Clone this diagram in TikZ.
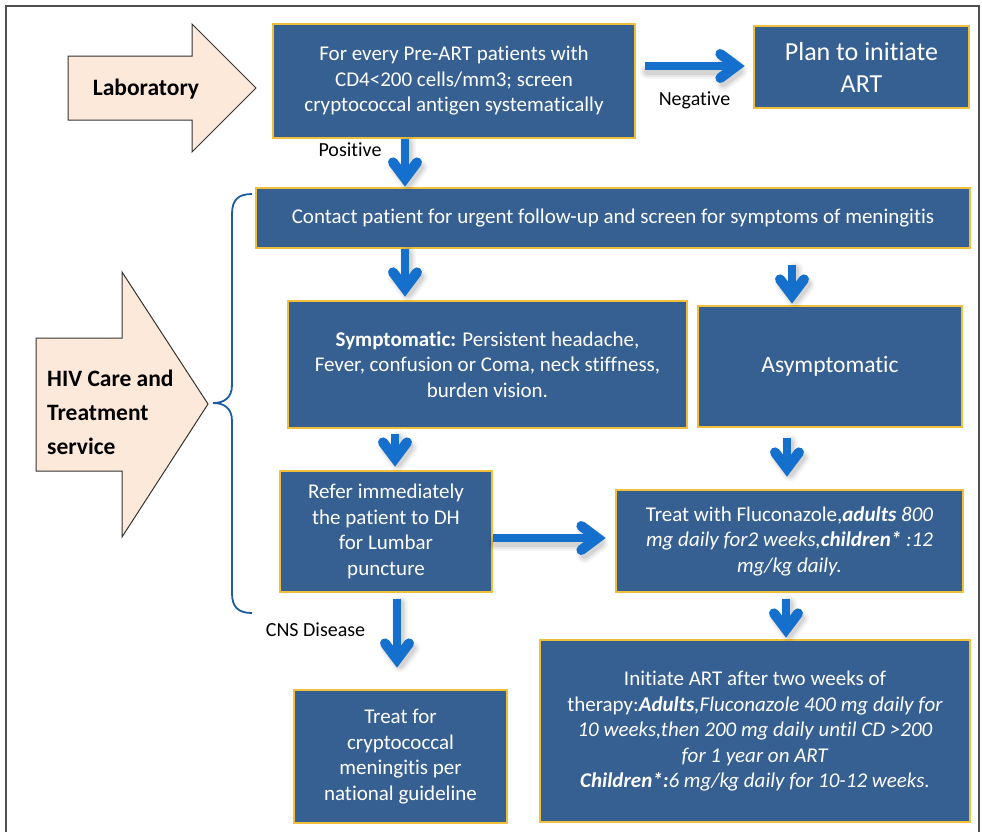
\documentclass[tikz,border=0pt]{standalone}
\usepackage{fontspec}
\setmainfont{Carlito}[Ligatures=CommonOff]
\usetikzlibrary{calc}

\definecolor{boxblue}{RGB}{55,96,146}
\definecolor{boxgold}{RGB}{240,192,60}
\definecolor{flowblue}{RGB}{20,112,204}
\definecolor{bracecol}{RGB}{30,92,162}
\definecolor{peach}{RGB}{253,233,217}
\definecolor{framegray}{RGB}{80,80,80}

\tikzset{
  stepbox/.style={draw=boxgold, fill=boxblue, line width=1.3pt, text=white,
    inner sep=0pt, align=center, font=\fontsize{21}{25.5}\selectfont},
  bigarrow/.style={fill=peach, draw=black!80, line width=1pt, line join=miter},
  sidetext/.style={font=\bfseries\fontsize{23.5}{34}\selectfont, inner sep=0pt},
  flowline/.style={draw=flowblue, line width=8pt},
  flowhead/.style={draw=flowblue, line width=10pt, line cap=round, line join=miter},
  lbl/.style={font=\fontsize{20}{23}\selectfont, inner sep=0pt},
}

% blue flow arrow: shaft from #1 to the joint #2 of an open chevron head
\newcommand\flowarrow[2]{%
  \foreach \w/\o in {16/0.04,12/0.06,8/0.08}{%
    \draw[black, opacity=\o, line width=\w pt, line cap=round, line join=round,
      transform canvas={shift={(3pt,-5pt)}}]
      (#1) -- (#2)
      ($(#2)!16pt!(#1)!12pt!90:(#2)$) -- (#2) -- ($(#2)!16pt!(#1)!12pt!-90:(#2)$);
  }%
  \draw[flowline] (#1) -- ($(#2)!3pt!(#1)$);
  \draw[flowhead] ($(#2)!16pt!(#1)!12pt!90:(#2)$) -- (#2)
    -- ($(#2)!16pt!(#1)!12pt!-90:(#2)$);
}

\begin{document}
\begin{tikzpicture}[x=1pt,y=-1pt]
\useasboundingbox (0,0) rectangle (982,831);

% page frame
\draw[framegray, line width=2pt] (6,845) -- (6,6) -- (979,6) -- (979,845);

% big side arrows
\draw[bigarrow] (68,56) -- (192,56) -- (192,24) -- (256,88) -- (192,152)
  -- (192,120) -- (68,120) -- cycle;
\node[sidetext] (lab) at (146,89) {Laboratory};

\draw[bigarrow] (36,338) -- (122,338) -- (122,272) -- (208,404) -- (122,537)
  -- (122,471) -- (36,471) -- cycle;
\node[sidetext, anchor=west, align=left] (hiv) at (47,412)
  {HIV Care and\\Treatment\\service};

% brace grouping the care steps
\draw[bracecol, line width=1.8pt]
  (252,194) .. controls (238,194) and (232,200) .. (232,214) -- (232,385)
  .. controls (232,398) and (224,403) .. (213,403)
  .. controls (224,403) and (232,408) .. (232,421) -- (232,593)
  .. controls (232,607) and (238,613) .. (252,613);

% process boxes
\node[stepbox, minimum width=362pt, minimum height=114pt] (top) at (454,81)
  {For every Pre-ART patients with\\CD4<200 cells/mm3; screen\\cryptococcal antigen systematically};
\node[stepbox, minimum width=215pt, minimum height=82pt,
  font=\fontsize{26}{32}\selectfont] (plan) at (861.5,67)
  {Plan to initiate\\ART};
\node[stepbox, minimum width=714pt, minimum height=60pt] (contact) at (613,218)
  {Contact patient for urgent follow-up and screen for symptoms of meningitis};
\node[stepbox, minimum width=399pt, minimum height=127pt] (sympt) at (487.5,364.5)
  {\textbf{Symptomatic:} Persistent headache,\\Fever, confusion or Coma, neck stiffness,\\burden vision.};
\node[stepbox, minimum width=264pt, minimum height=121pt,
  font=\fontsize{23.5}{28}\selectfont] (asym) at (830,366.5)
  {Asymptomatic};
\node[stepbox, minimum width=212pt, minimum height=121pt] (refer) at (386,531.5)
  {Refer immediately\\the patient to DH\\for Lumbar\\puncture};
\node[stepbox, minimum width=347pt, minimum height=102pt] (fluco) at (789.5,541)
  {Treat with Fluconazole,\textbf{\textit{adults}}\textit{ 800}\\
   \textit{mg daily for2 weeks,\textbf{children*} :12}\\
   \textit{mg/kg daily.}};
\node[stepbox, minimum width=430pt, minimum height=182pt] (init) at (755,731)
  {Initiate ART after two weeks of\\
   therapy:\textbf{\textit{Adults}}\textit{,Fluconazole 400 mg daily for}\\
   \textit{10 weeks,then 200 mg daily until CD >200}\\
   \textit{for 1 year on ART}\\
   \textbf{\textit{Children*:}}\textit{6 mg/kg daily for 10-12 weeks.}};
\node[stepbox, minimum width=213pt, minimum height=133pt] (treat) at (400.5,756.5)
  {Treat for\\cryptococcal\\meningitis per\\national guideline};

% arrow labels
\node[lbl] (pos) at (350,150) {Positive};
\node[lbl] (neg) at (694.5,100) {Negative};
\node[lbl] (cns) at (315.5,630) {CNS Disease};

% flow arrow end points
\coordinate (a1) at ($(top.east)+(9,-15)$);
\coordinate (b1) at ($(plan.west)+(-17,-1)$);
\coordinate (a2) at ($(top.south)+(-49,0)$);
\coordinate (b2) at ($(contact.north)+(-208,-9)$);
\coordinate (a3) at ($(contact.south)+(-208,0)$);
\coordinate (b3) at ($(sympt.north)+(-82.5,-12)$);
\coordinate (a4) at ($(contact.south)+(179,16)$);
\coordinate (b4) at ($(asym.north)+(-38,-10)$);
\coordinate (a5) at ($(sympt.south)+(-92.5,5)$);
\coordinate (b5) at ($(refer.north)+(9,-12)$);
\coordinate (a6) at ($(asym.south)+(-43,10)$);
\coordinate (b6) at ($(fluco.north)+(-2.5,-21)$);
\coordinate (a7) at ($(refer.east)+(0,6.5)$);
\coordinate (b7) at ($(fluco.west)+(-18,-3)$);
\coordinate (a8) at ($(fluco.south)+(-3.5,6)$);
\coordinate (b8) at ($(init.north)+(31,-10)$);
\coordinate (a9) at ($(refer.south)+(11,6)$);
\coordinate (b9) at ($(treat.north)+(-3.5,-30)$);

\flowarrow{a1}{b1}
\flowarrow{a2}{b2}
\flowarrow{a3}{b3}
\flowarrow{a4}{b4}
\flowarrow{a5}{b5}
\flowarrow{a6}{b6}
\flowarrow{a7}{b7}
\flowarrow{a8}{b8}
\flowarrow{a9}{b9}
\end{tikzpicture}
\end{document}
